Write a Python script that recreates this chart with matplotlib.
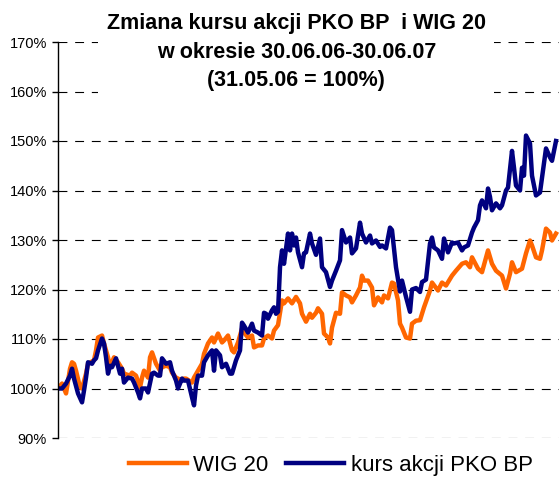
import matplotlib
matplotlib.use('Agg')
import matplotlib.pyplot as plt
from matplotlib.ticker import FuncFormatter

plt.rcParams['font.family'] = ['Liberation Sans', 'DejaVu Sans']

# trading day index (31.05.06 = 0) and index level in % of 31.05.06
wig_days = [0, 2, 4, 6, 7, 8, 9, 11, 12, 14, 15, 18, 19, 20, 22, 23, 25, 26, 28, 30,
            32, 33, 36, 37, 39, 41, 42, 43, 45, 46, 47, 49, 51, 52, 54, 56, 57, 59, 61, 63,
            64, 67, 68, 70, 72, 73, 75, 77, 78, 80, 82, 83, 85, 87, 88, 90, 92, 93, 95, 97,
            98, 100, 102, 103, 105, 107, 108, 110, 112, 113, 115, 117, 119, 121, 122, 124, 126, 127, 129, 130,
            132, 133, 135, 136, 137, 139, 141, 142, 144, 146, 147, 149, 151, 152, 153, 155, 157, 158, 160, 162,
            163, 165, 167, 168, 170, 171, 172, 174, 176, 177, 179, 181, 183, 186, 187, 190, 192, 194, 197, 199,
            202, 204, 206, 207, 210, 212, 215, 217, 219, 222, 224, 226, 227, 229, 232, 234, 236, 237, 239, 241,
            242, 244, 246, 247, 249]
wig = [100, 101, 99, 104, 105.3, 105, 103.6, 100.2, 100, 103, 105, 105.7, 107.7, 110.3, 110.7, 109.1, 106.3, 104.3, 106.3, 105.3,
       104, 103, 102.6, 103.2, 102.6, 100.2, 102.2, 103.6, 102.2, 106.3, 107.3, 105, 103.6, 104.3, 104.6, 104.3, 103.2, 102.2, 101.8, 102,
       102, 101.2, 102.2, 103.6, 105, 107, 109.1, 110.3, 109.3, 111.1, 109.3, 109.7, 110.7, 107.7, 107.3, 109.3, 112.1, 111.3, 110.3, 110.7,
       108.3, 108.7, 108.7, 110.1, 110.7, 110.1, 111.7, 112.8, 117.8, 117.2, 118.2, 117.2, 118.5, 117.2, 115.1, 113.5, 115.1, 114.3, 115.3, 116.2,
       115.1, 111.1, 110.3, 109.1, 112.3, 115.3, 115.1, 119.4, 118.8, 118.4, 117.4, 118.8, 120.4, 122.8, 121.8, 121.8, 120.4, 116.8, 118.4, 117.4,
       118.8, 118.2, 121.4, 121.2, 117.8, 113.1, 112.3, 110.3, 110.1, 113.1, 113.7, 113.8, 116.4, 119.8, 121.4, 119.8, 121.4, 120.8, 122.8, 123.8,
       125.2, 125.5, 124.5, 126.5, 124.2, 123.5, 127.9, 125.2, 123.8, 122.8, 120.2, 123.2, 125.5, 123.5, 124.2, 127.3, 129.9, 128.9, 126.5, 126.2,
       127.9, 132.3, 131.5, 129.9, 131.3]

pko_days = [0, 2, 4, 6, 7, 8, 10, 12, 13, 14, 15, 17, 18, 19, 20, 22, 23, 24, 25, 26,
            27, 29, 31, 32, 33, 35, 37, 38, 40, 41, 42, 44, 45, 47, 48, 50, 51, 52, 54, 56,
            57, 59, 60, 62, 63, 65, 67, 68, 69, 70, 72, 73, 75, 77, 78, 79, 81, 82, 84, 86,
            87, 89, 91, 92, 93, 95, 97, 98, 100, 102, 103, 104, 105, 107, 108, 109, 110, 111, 112, 113,
            114, 115, 116, 117, 118, 119, 120, 122, 123, 124, 126, 127, 129, 131, 132, 134, 136, 137, 139, 141,
            142, 144, 146, 147, 149, 151, 152, 154, 156, 157, 159, 161, 162, 164, 166, 167, 169, 171, 172, 174,
            176, 177, 179, 181, 182, 184, 186, 187, 188, 190, 192, 193, 195, 197, 198, 200, 202, 203, 205, 207,
            208, 210, 211, 212, 214, 215, 216, 217, 219, 221, 222, 224, 225, 227, 228, 229, 231, 232, 233, 234,
            236, 237, 239, 241, 242, 244, 246, 247, 249]
pko = [100, 100, 101, 102.6, 104, 102, 99, 97.2, 99.6, 102.2, 105.3, 105, 105.7, 106.1, 107.7, 110.1, 109.1, 106.3, 103, 104.6,
       104.3, 106.1, 103, 104, 101.2, 102.2, 102, 101.2, 99.2, 98, 100, 100, 99.2, 103, 103.2, 102.6, 102.6, 106.1, 105, 105.3,
       103.6, 101.6, 100, 102, 101.6, 101.6, 98.2, 96.6, 100.6, 102.6, 102.6, 105.3, 106.7, 107.7, 103.6, 107.7, 106.7, 104.3, 105, 103,
       103, 105.7, 107.7, 113.3, 112.7, 111.3, 113.1, 111.7, 111.3, 110.7, 115.3, 115.1, 114.1, 115.8, 116.4, 115.1, 115.5, 124.5, 127.9, 125.2,
       128.3, 131.3, 127.9, 131.3, 128.9, 130.5, 127.5, 124.5, 127.3, 127.5, 131.3, 129.3, 127, 130.3, 124.5, 123.5, 120.5, 121.8, 123.8, 125.9,
       132, 129.5, 130.5, 127.3, 128.3, 133.5, 131.3, 129.5, 130.9, 129.3, 129.9, 128.6, 128.9, 128.3, 132.5, 132, 124.5, 119.6, 121.8, 118.5,
       115.5, 120, 120.3, 119.5, 121.5, 122, 129.3, 130.5, 128.5, 127.9, 126.2, 130.3, 127.5, 129.5, 129.3, 129.5, 127.9, 128.5, 128.9, 131.5,
       132.5, 134, 137, 138, 136.4, 140.4, 138.7, 136, 137.4, 136.4, 137, 140, 140.6, 148, 144.6, 141, 140, 144.6, 143, 151.1,
       149.5, 143, 139, 139.6, 142.6, 148.5, 146.7, 146, 150]

y_ticks = [90, 100, 110, 120, 130, 140, 150, 160, 170]

fig = plt.figure(figsize=(5.59, 4.8), dpi=100)
ax = fig.add_axes([0.1038, 0.0875, 0.8962, 0.825])

ax.plot(wig_days, wig, color='#FF6600', lw=3.2, label='WIG 20', solid_joinstyle='round')
ax.plot(pko_days, pko, color='#000080', lw=3.2, label='kurs akcji PKO BP', solid_joinstyle='round')

ax.set_xlim(0, 250.5)
ax.set_ylim(90, 170)
ax.set_yticks(y_ticks)
ax.yaxis.set_major_formatter(FuncFormatter(lambda v, p: f'{v:.0f}%'))
ax.set_xticks([])
ax.grid(axis='y', color='black', lw=0.8, ls=(0, (8, 7)))
ax.set_axisbelow(True)
for s in ['top', 'right', 'bottom']:
    ax.spines[s].set_visible(False)
ax.spines['left'].set_linewidth(1.0)
ax.tick_params(axis='y', direction='out', length=4, width=1.0, pad=4, labelsize=10.5)

fig.text(0.53, 0.972, 'Zmiana kursu akcji PKO BP  i WIG 20\nw okresie 30.06.06-30.06.07\n(31.05.06 = 100%)',
         ha='center', va='top', fontsize=15.5, fontweight='bold', linespacing=1.45,
         bbox=dict(facecolor='white', edgecolor='none', pad=6), zorder=5)

fig.legend(loc='center', bbox_to_anchor=(0.592, 0.031), ncol=2, frameon=False,
           fontsize=16, handlelength=2.6, handletextpad=0.3, columnspacing=0.8, borderaxespad=0)

fig.savefig('out.png', dpi=100)
